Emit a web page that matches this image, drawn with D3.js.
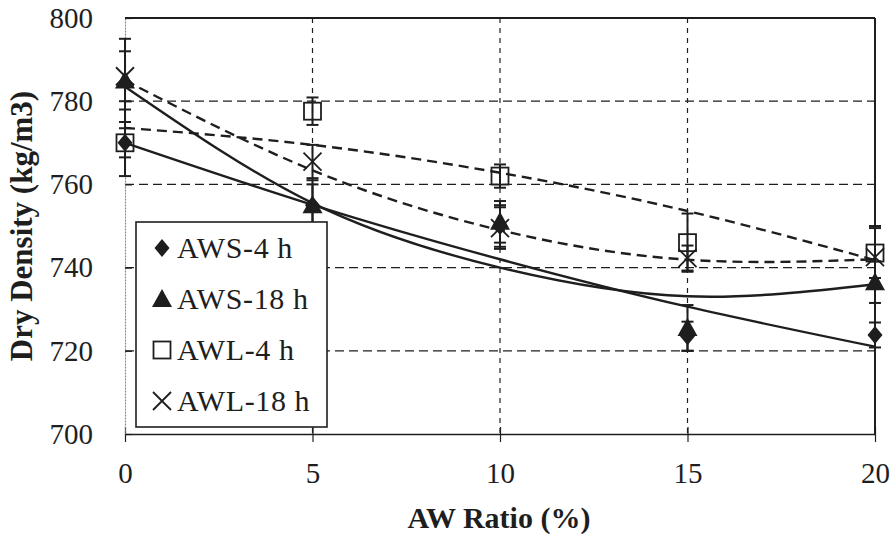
<!DOCTYPE html>
<html>
<head>
<meta charset="utf-8">
<script src="https://cdn.jsdelivr.net/npm/d3@7"></script>
<style>
	body { margin: 0; background: #fff; }
	svg text { font-family: 'Liberation Serif', 'Times New Roman', Times, 'DejaVu Serif', serif; fill: #1e1e1e; }
</style>
</head>
<body>
<div id="my_dataviz"></div>
<script>
// AW ratio (%)
const ratios = [ 0, 5, 10, 15, 20 ];

// measured dry density (kg/m3) and error bar half widths
const aws4 = [ 770, 755, 750, 723.5, 723.8 ];
const aws4Err = [ 8, 6, 5, 3.5, 3 ];
const aws18 = [ 785, 755, 751, 725.5, 736.5 ];
const aws18Err = [ 10, 5, 5, 5.5, 5 ];
const awl4 = [ 770, 777.6, 762, 746, 743.5 ];
const awl4Err = [ 3.5, 3.3, 2.8, 7, 6 ];
const awl18 = [ 786, 765.5, 749.5, 742.3, 742.5 ];
const awl18Err = [ 6, 4, 5, 3, 7.5 ];

// trend lines
const aws4Trend = [ 770, 755.1, 742, 730.6, 721 ];
const aws18Trend = [ 783.5, 755.5, 740, 733.1, 736 ];
const awl4Trend = [ 773.6, 769.5, 762.8, 753.6, 741.8 ];
const awl18Trend = [ 785, 763.4, 749, 741.9, 742 ];

const xTicks = [ 0, 5, 10, 15, 20 ];
const yTicks = [ 700, 720, 740, 760, 780, 800 ];

const seriesNames = [ 'AWS-4 h', 'AWS-18 h', 'AWL-4 h', 'AWL-18 h' ];

let dimensions = {
	width  : 893,
	height : 536,
	margin : {
		top    : 18,
		right  : 18,
		bottom : 102,
		left   : 125
	}
};
dimensions.boundedWidth = dimensions.width - dimensions.margin.left - dimensions.margin.right;
dimensions.boundedHeight = dimensions.height - dimensions.margin.top - dimensions.margin.bottom;

const ink = '#1e1e1e';
const serif = "'Liberation Serif', 'Times New Roman', serif";

const svg = d3.select('#my_dataviz').append('svg').attr('width', dimensions.width).attr('height', dimensions.height);

const bounds = svg.append('g').attr('transform', `translate(${dimensions.margin.left}, ${dimensions.margin.top})`);

const x = d3.scaleLinear().domain([ 0, 20 ]).range([ 0, dimensions.boundedWidth ]);
const y = d3.scaleLinear().domain([ 700, 800 ]).range([ dimensions.boundedHeight, 0 ]);

// grid
bounds
	.append('g')
	.selectAll('line')
	.data(yTicks.filter((d) => d > 700 && d < 800))
	.enter()
	.append('line')
	.attr('x1', 0)
	.attr('x2', dimensions.boundedWidth)
	.attr('y1', (d) => y(d))
	.attr('y2', (d) => y(d))
	.attr('stroke', ink)
	.attr('stroke-width', 1.2)
	.attr('stroke-dasharray', '9,5');

bounds
	.append('g')
	.selectAll('line')
	.data(xTicks.filter((d) => d > 0 && d < 20))
	.enter()
	.append('line')
	.attr('x1', (d) => x(d))
	.attr('x2', (d) => x(d))
	.attr('y1', 0)
	.attr('y2', dimensions.boundedHeight)
	.attr('stroke', ink)
	.attr('stroke-width', 1.2)
	.attr('stroke-dasharray', '5,5');

// frame
bounds
	.append('line')
	.attr('x1', 0)
	.attr('x2', dimensions.boundedWidth)
	.attr('y1', 0)
	.attr('y2', 0)
	.attr('stroke', ink)
	.attr('stroke-width', 2);
bounds
	.append('line')
	.attr('x1', dimensions.boundedWidth)
	.attr('x2', dimensions.boundedWidth)
	.attr('y1', 0)
	.attr('y2', dimensions.boundedHeight)
	.attr('stroke', ink)
	.attr('stroke-width', 2);

// axes
const xAxisGenerator = d3.axisBottom(x).tickValues(xTicks).tickSizeOuter(0).tickSizeInner(8).tickPadding(20);
const xAxis = bounds
	.append('g')
	.attr('transform', 'translate(0,' + dimensions.boundedHeight + ')')
	.call(xAxisGenerator)
	.attr('class', 'x axis')
	.attr('font-family', serif)
	.attr('font-size', 29);
xAxis.select('.domain').attr('stroke', ink).attr('stroke-width', 1.6);
xAxis.selectAll('.tick line').attr('y1', -7).attr('stroke', ink).attr('stroke-width', 1.2);
xAxis.selectAll('.tick text').attr('fill', ink);

const yAxisGenerator = d3.axisLeft(y).tickValues(yTicks).tickSizeOuter(0).tickSizeInner(8).tickPadding(24);
const yAxis = bounds
	.append('g')
	.call(yAxisGenerator)
	.attr('class', 'y axis')
	.attr('font-family', serif)
	.attr('font-size', 29);
yAxis.select('.domain').attr('stroke', '#8a8a8a').attr('stroke-width', 1.2).attr('stroke-dasharray', '2,1');
yAxis.selectAll('.tick line').attr('x2', 7).attr('stroke', ink).attr('stroke-width', 1.2);
yAxis.selectAll('.tick text').attr('fill', ink);

// trend lines
const trendLine = d3.line().x((d, i) => x(ratios[i])).y((d) => y(d)).curve(d3.curveNatural);
const trends = [
	{ values: aws4Trend, dash: null },
	{ values: aws18Trend, dash: null },
	{ values: awl4Trend, dash: '10,6' },
	{ values: awl18Trend, dash: '10,6' }
];
trends.forEach(function(t) {
	bounds
		.append('path')
		.attr('d', trendLine(t.values))
		.attr('fill', 'none')
		.attr('stroke', ink)
		.attr('stroke-width', 2.4)
		.attr('stroke-dasharray', t.dash);
});

// error bars
const capW = 6;
const series = [
	{ values: aws4, err: aws4Err, shape: 'diamond' },
	{ values: aws18, err: aws18Err, shape: 'triangle' },
	{ values: awl4, err: awl4Err, shape: 'square' },
	{ values: awl18, err: awl18Err, shape: 'cross' }
];
series.forEach(function(s) {
	const g = bounds.append('g');
	s.values.forEach(function(v, i) {
		const cx = x(ratios[i]);
		g
			.append('line')
			.attr('x1', cx)
			.attr('x2', cx)
			.attr('y1', y(v + s.err[i]))
			.attr('y2', y(v - s.err[i]))
			.attr('stroke', ink)
			.attr('stroke-width', 2);
		[ v + s.err[i], v - s.err[i] ].forEach(function(e) {
			g
				.append('line')
				.attr('x1', cx - capW)
				.attr('x2', cx + capW)
				.attr('y1', y(e))
				.attr('y2', y(e))
				.attr('stroke', ink)
				.attr('stroke-width', 2);
		});
	});
});

function drawMarker(g, shape, cx, cy) {
	if (shape === 'diamond') {
		g
			.append('path')
			.attr('d', `M${cx},${cy - 9}L${cx + 7.5},${cy}L${cx},${cy + 9}L${cx - 7.5},${cy}Z`)
			.attr('fill', ink);
	} else if (shape === 'triangle') {
		g
			.append('path')
			.attr('d', `M${cx},${cy - 10}L${cx + 10},${cy + 8}L${cx - 10},${cy + 8}Z`)
			.attr('fill', ink);
	} else if (shape === 'square') {
		g
			.append('rect')
			.attr('x', cx - 8.5)
			.attr('y', cy - 8.5)
			.attr('width', 17)
			.attr('height', 17)
			.attr('fill', 'none')
			.attr('stroke', ink)
			.attr('stroke-width', 1.8);
	} else {
		g
			.append('path')
			.attr('d', `M${cx - 9},${cy - 9}L${cx + 9},${cy + 9}M${cx + 9},${cy - 9}L${cx - 9},${cy + 9}`)
			.attr('fill', 'none')
			.attr('stroke', ink)
			.attr('stroke-width', 1.8);
	}
}

// markers
series.forEach(function(s) {
	const g = bounds.append('g');
	s.values.forEach(function(v, i) {
		drawMarker(g, s.shape, x(ratios[i]), y(v));
	});
});

// axis titles
svg
	.append('text')
	.attr('x', 499)
	.attr('y', 528)
	.attr('text-anchor', 'middle')
	.attr('font-size', '30px')
	.attr('font-weight', 'bold')
	.text('AW Ratio (%)');

svg
	.append('text')
	.attr('transform', 'translate(32, 226) rotate(-90)')
	.attr('text-anchor', 'middle')
	.attr('font-size', '31px')
	.attr('font-weight', 'bold')
	.text('Dry Density (kg/m3)');

// legend
const legend = svg.append('g').attr('transform', 'translate(136, 222)');
legend
	.append('rect')
	.attr('width', 191)
	.attr('height', 205)
	.attr('fill', '#fff')
	.attr('stroke', ink)
	.attr('stroke-width', 1.6);

seriesNames.forEach(function(name, i) {
	const rowY = 26 + i * 51;
	drawMarker(legend, series[i].shape, 26, rowY);
	legend
		.append('text')
		.attr('x', 41)
		.attr('y', rowY + 10)
		.attr('font-size', '30px')
		.attr('letter-spacing', '0.6px')
		.text(name);
});
</script>
</body>
</html>
